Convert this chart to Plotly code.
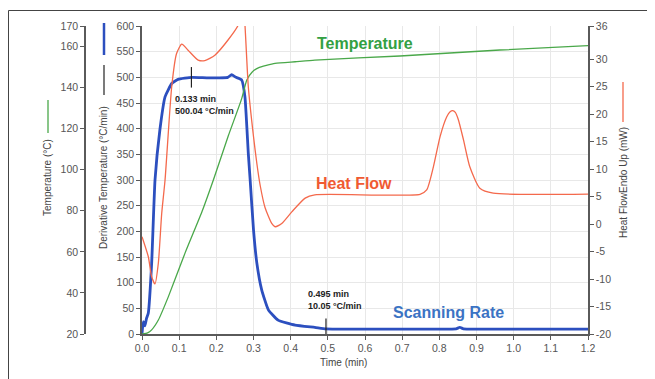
import plotly.graph_objects as go

# ---------------- data ----------------
time_rate = [0, 0.0035, 0.008, 0.012, 0.017, 0.026, 0.035, 0.048, 0.062, 0.080, 0.097, 0.134,
             0.180, 0.231, 0.241, 0.253, 0.268, 0.277, 0.286, 0.291, 0.300, 0.309, 0.322,
             0.340, 0.366, 0.412, 0.465, 0.495, 0.6, 0.8, 0.845, 0.855, 0.865, 0.9, 1.0, 1.2]
rate = [0, 24, 16, 30, 41, 138, 300, 397, 462, 488, 496, 500,
        499, 500, 505, 500, 495, 462, 352, 300, 203, 138, 86,
        47, 27, 17.5, 13, 10.05, 9.5, 9.5, 10, 13, 10, 9.5, 9.5, 9.5]

time_temp = [0, 0.015, 0.026, 0.044, 0.071, 0.116, 0.161, 0.192, 0.232, 0.268, 0.282,
             0.296, 0.313, 0.358, 0.412, 0.465, 0.694, 0.963, 1.2]
temp = [20, 20.5, 22, 26.8, 38.2, 59.5, 79.4, 95, 116.4, 134.5, 143.7,
        147.5, 149.6, 151.8, 152.6, 153.4, 155.4, 158.3, 160.4]

time_heat = [0, 0.017, 0.026, 0.035, 0.044, 0.053, 0.062, 0.080, 0.093, 0.107, 0.124,
             0.151, 0.169, 0.196, 0.232, 0.259, 0.268, 0.272, 0.277, 0.286, 0.300,
             0.309, 0.318, 0.331, 0.349, 0.358, 0.376, 0.403, 0.439, 0.465, 0.748,
             0.766, 0.784, 0.802, 0.820, 0.829, 0.836, 0.843, 0.851, 0.865, 0.882, 0.909,
             0.945, 1.2]
heat = [-2.3, -5.95, -9.6, -10.9, -7.1, 1.9, 8, 25, 31, 32.7, 31.6,
        29.8, 29.7, 30.7, 33.5, 36.2, 40, 40, 36.2, 25, 15.9,
        11, 7, 3, 0.1, -0.5, 0.1, 2.2, 4.7, 5.3, 5.4,
        6.2, 10.4, 15.9, 19.5, 20.4, 20.6, 20.3, 19, 15.3, 10.4, 6.5,
        5.6, 5.45]

marker_times = [0.133, 0.495]
marker_values = [500.04, 10.05]

x_ticks = [0.0, 0.1, 0.2, 0.3, 0.4, 0.5, 0.6, 0.7, 0.8, 0.9, 1.0, 1.1, 1.2]
rate_ticks = list(range(0, 601, 50))
temp_ticks = [20, 40, 60, 80, 100, 120, 140, 160, 170]
heat_ticks = [-20, -15, -10, -5, 0, 5, 10, 15, 20, 25, 30, 36]

# ---------------- styling ----------------
OFF = 8                      # page body margin
W, H = 655 - OFF, 379 - OFF  # figure size
L_PX, R_PX, T_PX, B_PX = 142, 588, 26, 334   # plot area in screen px
BLUE = "#2c4fbf"
GREEN = "#4aa84a"
RED = "#f4694c"
AX = "#5a5a5a"
FONT = "Liberation Sans, Arial, sans-serif"
TICKF = dict(family=FONT, size=10.5, color="#555555")


def px_x(p):
    return (p - OFF) / W


def px_y(p):
    return (B_PX - p) / (B_PX - T_PX)


fig = go.Figure()
fig.add_trace(go.Scatter(x=time_temp, y=temp, mode="lines", yaxis="y2",
                         line=dict(color=GREEN, width=1.3, shape="spline", smoothing=0.5)))
fig.add_trace(go.Scatter(x=time_heat, y=heat, mode="lines", yaxis="y3",
                         line=dict(color=RED, width=1.3, shape="spline", smoothing=0.6)))
fig.add_trace(go.Scatter(x=time_rate, y=rate, mode="lines", yaxis="y",
                         line=dict(color=BLUE, width=2.8, shape="spline", smoothing=0.4)))

# marker ticks on scanning rate
for t, v in zip(marker_times, marker_values):
    fig.add_trace(go.Scatter(x=[t, t], y=[max(0, v - 20), v + 20], mode="lines", yaxis="y",
                             line=dict(color="#222222", width=1.2)))

axis_common = dict(showline=True, linecolor=AX, linewidth=1.5, ticks="outside",
                   ticklen=4, tickcolor=AX, tickfont=TICKF, zeroline=False, automargin=False)

fig.update_layout(
    width=W, height=H,
    margin=dict(l=0, r=0, t=T_PX - OFF, b=H - (B_PX - OFF), pad=0),
    paper_bgcolor="white", plot_bgcolor="white",
    showlegend=False,
    xaxis=dict(domain=[px_x(L_PX), px_x(R_PX)], range=[0, 1.2], tickvals=x_ticks,
               tickformat=".1f", showgrid=True, gridcolor="#e8e8e8", gridwidth=1,
               **axis_common),
    yaxis=dict(range=[0, 600], tickvals=rate_ticks, showgrid=True, gridcolor="#e8e8e8",
               gridwidth=1, side="left", **axis_common),
    yaxis2=dict(range=[20, 170], tickvals=temp_ticks, overlaying="y", side="left",
                anchor="free", position=px_x(85), showgrid=False, **axis_common),
    yaxis3=dict(range=[-20, 36], tickvals=heat_ticks, ticktext=[str(v) for v in heat_ticks],
                overlaying="y", side="right", anchor="x", showgrid=False, **axis_common),
)

ann = []
# axis titles
ann.append(dict(text="Temperature (°C)", x=px_x(47), y=px_y(178), textangle=-90))
ann.append(dict(text="Derivative Temperature (°C/min)", x=px_x(103), y=px_y(178), textangle=-90))
ann.append(dict(text="Heat FlowEndo Up (mW)", x=px_x(623), y=px_y(183), textangle=-90))
ann.append(dict(text="Time (min)", x=px_x(343), y=px_y(362)))
for a in ann:
    a.update(xref="paper", yref="paper", showarrow=False, xanchor="center", yanchor="middle",
             font=dict(family=FONT, size=10, color="#444444"))

# series labels
for txt, cx, cy, col in [("Temperature", 365, 43, "#33a043"),
                         ("Heat Flow", 354, 183, "#f05a32"),
                         ("Scanning Rate", 448, 312, "#3b73c4")]:
    ann.append(dict(text=f"<b>{txt}</b>", x=px_x(cx), y=px_y(cy), xref="paper", yref="paper",
                    showarrow=False, xanchor="center", yanchor="middle",
                    font=dict(family=FONT, size=16, color=col)))

# marker labels
for t, v, lx, ty in zip(marker_times, marker_values, [173, 306], [92, 287]):
    ann.append(dict(text=f"<b>{t:.3f} min</b><br><b>{v:.2f} °C/min</b>", x=px_x(lx), y=px_y(ty),
                    xref="paper", yref="paper", showarrow=False, align="left",
                    xanchor="left", yanchor="top",
                    font=dict(family=FONT, size=9, color="#222222")))
fig.update_layout(annotations=ann)

# legend stubs and frame
shapes = [
    dict(type="line", xref="paper", yref="paper", x0=px_x(48), x1=px_x(48), y0=px_y(100), y1=px_y(133),
         line=dict(color=GREEN, width=1.3)),
    dict(type="line", xref="paper", yref="paper", x0=px_x(104), x1=px_x(104), y0=px_y(23), y1=px_y(55),
         line=dict(color=BLUE, width=2.5)),
    dict(type="line", xref="paper", yref="paper", x0=px_x(104), x1=px_x(104), y0=px_y(65), y1=px_y(95),
         line=dict(color="#333333", width=1.3)),
    dict(type="line", xref="paper", yref="paper", x0=px_x(623), x1=px_x(623), y0=px_y(82), y1=px_y(122),
         line=dict(color=RED, width=1.3)),
    dict(type="line", xref="paper", yref="paper", x0=px_x(8.5), x1=px_x(655), y0=px_y(10.5), y1=px_y(10.5),
         line=dict(color="#444444", width=1)),
    dict(type="line", xref="paper", yref="paper", x0=px_x(8.5), x1=px_x(8.5), y0=px_y(10.5), y1=px_y(379),
         line=dict(color="#444444", width=1)),
]
fig.update_layout(shapes=shapes)

fig.write_html("out.html")
